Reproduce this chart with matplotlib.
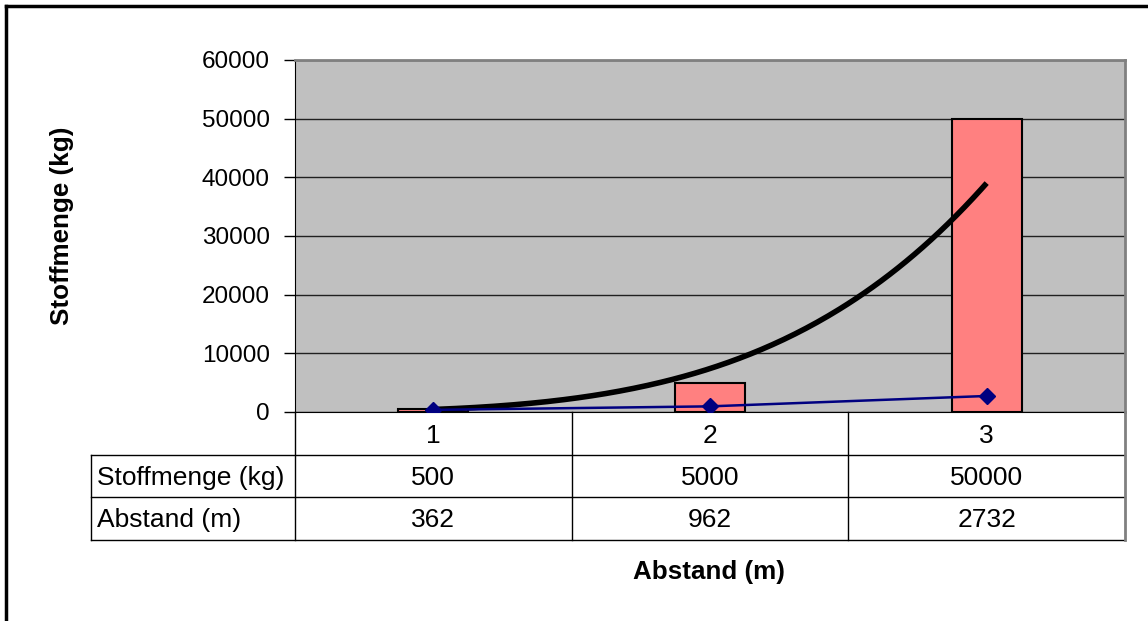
import numpy as np
import matplotlib
matplotlib.use("Agg")
import matplotlib.pyplot as plt
from matplotlib.lines import Line2D

plt.rcParams['font.family'] = ['Liberation Sans', 'DejaVu Sans']

categories = ["1", "2", "3"]
stoffmenge = [500, 5000, 50000]
abstand = [362, 962, 2732]
row_labels = ["Stoffmenge (kg)", "Abstand (m)"]
yticks = [0, 10000, 20000, 30000, 40000, 50000, 60000]

W, H = 1148, 621
fig = plt.figure(figsize=(W / 100, H / 100), dpi=100)
fig.patch.set_facecolor("white")

def fx(x):
    return x / W

def fy(y):
    return 1 - y / H

L, R, T, B = 295, 1125, 60, 412
ax = fig.add_axes([fx(L), fy(B), (R - L) / W, (B - T) / H])
ax.set_facecolor("#C0C0C0")

x = np.arange(1, len(categories) + 1)
ax.bar(x, stoffmenge, width=0.253, color="#FF8080", edgecolor="black", linewidth=1.5, zorder=3)

# power trendline fitted to Stoffmenge
b, lna = np.polyfit(np.log(x), np.log(stoffmenge), 1)
xt = np.linspace(1, 3, 200)
ax.plot(xt, np.exp(lna) * xt ** b, color="black", linewidth=4, zorder=4, solid_capstyle="butt")

ax.plot(x, abstand, color="#000080", linewidth=1.8, marker="D", markersize=8,
        markerfacecolor="#000080", markeredgecolor="#000080", zorder=5)

ax.set_xlim(0.5, 3.5)
ax.set_ylim(0, 60000)
ax.set_yticks(yticks)
ax.set_yticklabels([str(t) for t in yticks], fontsize=17.5)
ax.yaxis.grid(True, color="#202020", linewidth=1)
ax.set_axisbelow(True)
ax.set_xticks([])
ax.tick_params(axis="y", direction="out", length=8, width=1, pad=10)
for s in ["top", "right"]:
    ax.spines[s].set_color("#808080")
    ax.spines[s].set_linewidth(2)
ax.spines["left"].set_color("black")
ax.spines["bottom"].set_color("black")

fig.text(fx(62), fy(226), "Stoffmenge (kg)", rotation=90, ha="center", va="center",
         fontsize=18.7, fontweight="bold")

# data table
def hline(x0, x1, y, color="black", lw=1):
    fig.add_artist(Line2D([fx(x0), fx(x1)], [fy(y), fy(y)], color=color, lw=lw, transform=fig.transFigure))

def vline(xx, y0, y1, color="black", lw=1):
    fig.add_artist(Line2D([fx(xx), fx(xx)], [fy(y0), fy(y1)], color=color, lw=lw, transform=fig.transFigure))

TL = 91
colw = (R - L) / len(categories)
hline(TL, R, 455)
hline(TL, R, 497)
hline(TL, R, 540)
vline(TL, 455, 540)
vline(L, 412, 540)
for i in range(1, len(categories)):
    vline(L + i * colw, 412, 540)
vline(R, 412, 540, color="#808080", lw=2)

fs = 19
for i, c in enumerate(categories):
    cx = L + (i + 0.5) * colw
    fig.text(fx(cx), fy(436), c, ha="center", va="center", fontsize=fs)
    fig.text(fx(cx), fy(478), str(stoffmenge[i]), ha="center", va="center", fontsize=fs)
    fig.text(fx(cx), fy(520), str(abstand[i]), ha="center", va="center", fontsize=fs)
fig.text(fx(97), fy(478), row_labels[0], ha="left", va="center", fontsize=fs)
fig.text(fx(97), fy(520), row_labels[1], ha="left", va="center", fontsize=fs)

fig.text(fx(709), fy(572), "Abstand (m)", ha="center", va="center", fontsize=18.7, fontweight="bold")

# outer border (top and left)
hline(6, W, 6, lw=2.5)
vline(6, 6, H, lw=2.5)

fig.savefig("out.png", dpi=100)
